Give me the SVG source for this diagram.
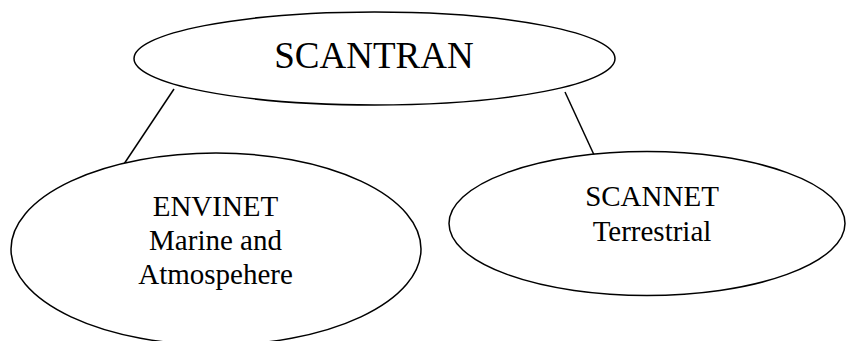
<svg xmlns="http://www.w3.org/2000/svg" width="846" height="341" viewBox="0 0 846 341">
  <style>
    .node { fill: #ffffff; stroke: #000000; stroke-width: 1.5; }
    .edge { stroke: #000000; stroke-width: 1.5; fill: none; }
    .label { font-family: "Liberation Serif", "Times New Roman", serif; fill: #000000; text-anchor: middle; }
  </style>
  <rect width="846" height="341" fill="#ffffff"/>
  <g id="connectors">
    <line class="edge" x1="174" y1="89" x2="122" y2="167"/>
    <line class="edge" x1="565" y1="92" x2="595" y2="157"/>
  </g>
  <g id="scantran">
    <ellipse class="node" cx="374.5" cy="58.5" rx="240.5" ry="46.5"/>
    <text class="label" x="374" y="68" font-size="37">SCANTRAN</text>
  </g>
  <g id="envinet">
    <ellipse class="node" cx="216" cy="249" rx="205" ry="96"/>
    <text class="label" x="215.5" y="216" font-size="29">ENVINET</text>
    <text class="label" x="215.5" y="250" font-size="29">Marine and</text>
    <text class="label" x="215.5" y="284" font-size="29">Atmospehere</text>
  </g>
  <g id="scannet">
    <ellipse class="node" cx="647" cy="223.5" rx="198" ry="72"/>
    <text class="label" x="652" y="206" font-size="29">SCANNET</text>
    <text class="label" x="652" y="241" font-size="29">Terrestrial</text>
  </g>
</svg>
